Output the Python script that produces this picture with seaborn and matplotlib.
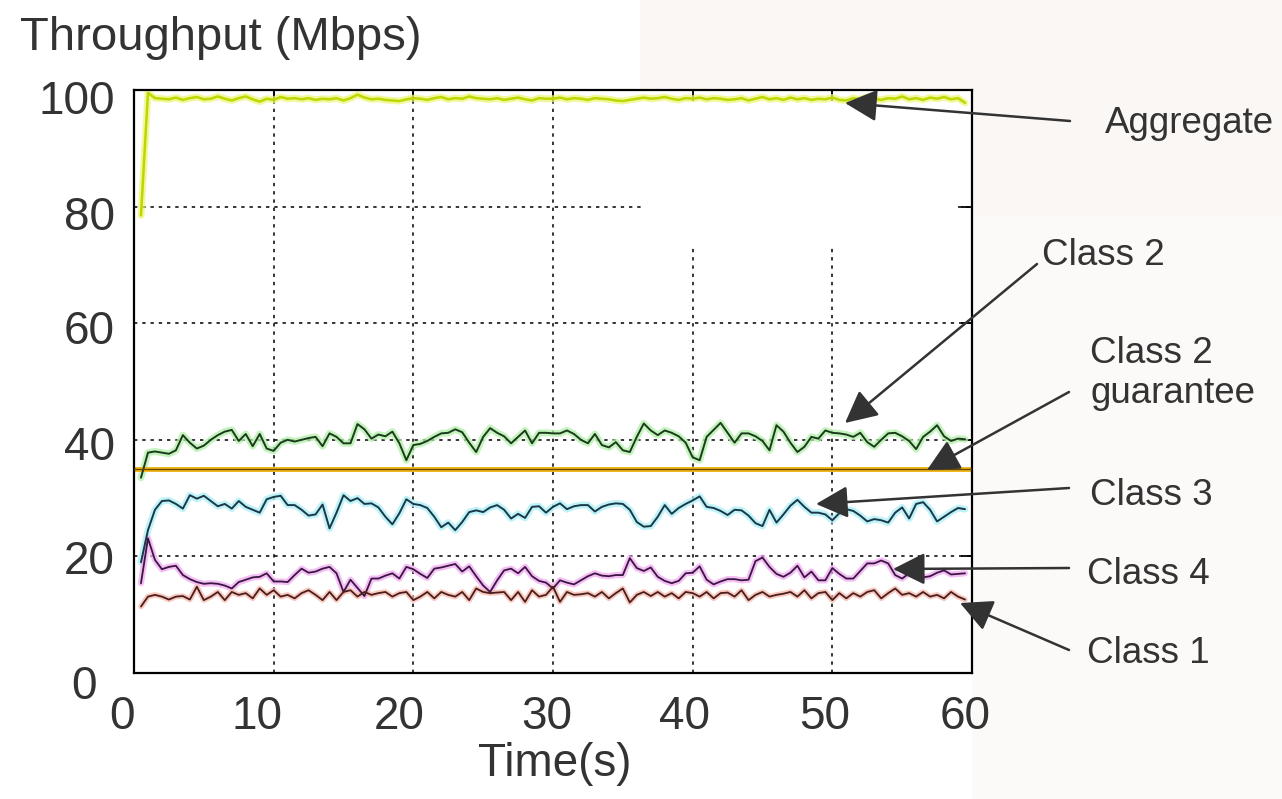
import numpy as np
import pandas as pd
import matplotlib
matplotlib.use("Agg")
import matplotlib.pyplot as plt
from matplotlib.patches import Rectangle
from matplotlib.transforms import ScaledTranslation
import seaborn as sns

# ---------------- data ----------------
time_s = np.arange(0.5, 60.0, 0.5)  # sample times, 0.5 .. 59.5 s

aggregate = [78.5, 99.5,
    98.6, 98.5, 98.4, 98.7, 98.3, 98.6, 98.8, 98.4, 98.5, 98.9, 98.5, 98.2, 98.6, 98.9, 98.4, 98.0,
    98.5, 98.3, 98.8, 98.5, 98.6, 98.4, 98.6, 98.3, 98.5, 98.4, 98.6, 98.2, 98.6, 99.2, 98.7, 98.4,
    98.5, 98.3, 98.2, 98.1, 98.4, 98.6, 98.5, 98.3, 98.6, 98.8, 98.4, 98.6, 98.5, 98.9, 98.6, 98.5,
    98.4, 98.6, 98.3, 98.5, 98.7, 98.4, 98.2, 98.6, 98.5, 98.5, 98.7, 98.4, 98.6, 98.5, 98.3, 98.6,
    98.5, 98.4, 98.2, 98.1, 98.3, 98.5, 98.7, 98.5, 98.6, 98.8, 98.5, 98.3, 98.6, 98.5, 98.7, 98.4,
    98.6, 98.5, 98.3, 98.4, 98.6, 98.2, 98.5, 98.8, 98.4, 98.6, 98.3, 98.7, 98.4, 98.6, 98.3, 98.5,
    98.4, 98.7, 98.3, 98.2, 98.6, 98.4, 98.8, 98.5, 98.3, 98.6, 98.5, 98.9, 98.4, 98.6, 98.3, 98.7,
    98.5, 98.8, 98.4, 98.6, 97.8]

class2 = [33.5, 37.8, 38.0, 37.8, 37.6, 38.2, 40.8, 39.5, 38.5, 39.0, 40.0, 40.8, 41.4, 41.7, 39.8,
    41.0, 38.9, 41.0, 38.5, 38.1, 39.5, 40.0, 39.7, 40.0, 40.3, 40.5, 38.9, 41.1, 40.5, 39.4, 39.4,
    42.7, 41.8, 40.2, 40.9, 40.6, 41.4, 39.4, 36.5, 39.1, 39.3, 39.8, 40.5, 41.1, 41.2, 41.8, 41.3,
    39.5, 37.9, 40.5, 42.0, 41.2, 40.6, 39.4, 40.5, 41.6, 39.4, 41.2, 41.2, 41.1, 41.1, 41.6, 41.0,
    40.0, 39.4, 41.0, 39.1, 38.7, 39.6, 38.2, 37.9, 40.5, 42.8, 41.6, 40.8, 41.6, 41.2, 40.6, 39.5,
    37.0, 36.5, 40.5, 41.7, 42.9, 41.2, 39.5, 41.1, 41.1, 40.6, 39.8, 38.2, 42.5, 41.4, 39.5, 37.9,
    38.8, 40.5, 40.2, 41.6, 41.2, 41.1, 40.9, 40.5, 41.2, 39.6, 38.8, 40.0, 41.1, 41.2, 40.6, 39.8,
    38.4, 40.5, 41.4, 42.5, 40.6, 39.8, 40.2, 40.1]

class3 = [19.0, 24.5, 28.0, 29.5, 29.6, 29.0, 28.2, 30.5, 29.9, 30.4, 29.5, 28.6, 29.0, 28.2, 29.5,
    28.5, 28.0, 27.5, 29.8, 30.2, 30.4, 28.8, 28.8, 28.0, 27.0, 27.2, 28.9, 24.8, 27.5, 30.5, 29.5,
    30.0, 29.0, 29.1, 28.4, 26.8, 25.5, 27.4, 29.8, 29.0, 28.8, 28.3, 26.8, 25.0, 25.8, 24.5, 25.9,
    27.6, 27.9, 27.6, 28.4, 28.8, 28.0, 26.5, 27.3, 26.6, 28.5, 28.6, 27.5, 28.5, 29.1, 28.1, 28.6,
    28.8, 28.8, 27.7, 28.5, 28.9, 29.1, 29.0, 28.0, 25.9, 25.1, 25.2, 26.8, 28.8, 27.3, 28.3, 29.0,
    29.6, 30.3, 28.5, 28.3, 27.8, 27.1, 28.0, 27.9, 27.0, 25.7, 25.2, 28.0, 25.8, 27.2, 28.7, 29.7,
    28.5, 27.5, 27.5, 27.2, 26.2, 27.4, 28.1, 27.8, 27.0, 26.0, 26.4, 26.2, 25.8, 27.5, 28.4, 26.5,
    29.0, 29.3, 28.0, 26.0, 26.8, 27.6, 28.3, 28.1]

class4 = [15.4, 23.1, 19.4, 17.8, 18.2, 18.4, 16.8, 16.1, 15.6, 15.3, 15.4, 15.3, 15.0, 14.5, 15.6,
    16.0, 16.4, 16.5, 17.1, 15.7, 15.7, 15.6, 16.8, 17.9, 17.2, 17.4, 17.9, 18.2, 17.1, 13.9, 16.0,
    14.6, 13.2, 16.2, 16.2, 16.7, 17.1, 16.2, 18.2, 17.8, 17.0, 16.3, 17.9, 18.1, 18.4, 18.7, 17.4,
    18.3, 16.6, 15.0, 13.9, 15.9, 17.6, 17.9, 17.1, 18.2, 16.6, 15.8, 15.5, 14.5, 15.9, 15.5, 15.2,
    15.9, 16.6, 17.1, 16.7, 16.6, 16.8, 16.8, 19.7, 18.0, 17.5, 18.1, 16.5, 15.8, 15.4, 15.8, 17.1,
    17.2, 18.3, 16.0, 15.2, 15.7, 16.1, 16.1, 15.9, 16.0, 19.2, 19.8, 18.2, 17.0, 16.5, 17.2, 18.4,
    16.4, 17.4, 15.9, 15.9, 18.0, 17.0, 16.2, 16.2, 17.5, 18.8, 18.8, 19.3, 18.8, 16.8, 16.2, 17.1,
    16.5, 16.4, 16.6, 17.2, 17.6, 16.9, 17.0, 17.1]

class1 = [11.4, 13.1, 13.4, 13.1, 12.6, 13.1, 13.2, 12.6, 14.8, 12.5, 13.1, 13.9, 12.5, 13.9, 13.4,
    13.7, 12.8, 14.5, 13.4, 14.2, 13.1, 13.4, 12.8, 13.7, 14.2, 13.4, 12.5, 13.9, 12.5, 13.9, 14.2,
    13.1, 13.9, 13.4, 13.7, 13.9, 13.1, 13.7, 13.9, 12.5, 13.1, 13.9, 12.8, 13.9, 13.4, 13.1, 13.9,
    12.5, 14.5, 13.9, 13.7, 13.8, 13.9, 12.5, 13.9, 12.2, 14.2, 13.1, 13.4, 14.8, 12.2, 13.9, 13.4,
    13.5, 13.7, 13.1, 13.9, 12.8, 13.7, 14.5, 12.1, 13.4, 13.9, 13.2, 13.9, 13.1, 13.7, 12.8, 13.9,
    13.7, 13.1, 13.9, 12.8, 13.7, 13.8, 13.1, 14.2, 12.5, 13.4, 13.9, 13.1, 13.4, 13.6, 13.9, 13.1,
    14.2, 12.8, 13.7, 13.9, 12.5, 13.7, 12.8, 13.7, 13.1, 13.9, 14.2, 12.8, 13.7, 14.5, 13.4, 13.7,
    13.1, 13.9, 13.1, 13.4, 12.8, 13.9, 13.1, 12.6]

class2_guarantee = 35.0
guarantee_span = [0.0, 60.0]

x_ticks = [0, 10, 20, 30, 40, 50, 60]
y_ticks = [0, 20, 40, 60, 80, 100]

for s in (aggregate, class2, class3, class4, class1):
    assert len(s) == len(time_s), len(s)

# ---------------- figure ----------------
sns.set_style("white")
plt.rcParams["font.family"] = ["Liberation Sans", "DejaVu Sans"]

W, H = 1282, 799
fig = plt.figure(figsize=(W / 100, H / 100), dpi=100)
fig.patch.set_facecolor("white")

# faint slide-background tint
fig.add_artist(Rectangle((640 / W, 1 - 215 / H), 642 / W, 215 / H,
                         transform=fig.transFigure, color="#faf7f4", zorder=-10, lw=0))
fig.add_artist(Rectangle((972 / W, 0), 310 / W, 1 - 215 / H,
                         transform=fig.transFigure, color="#fcfaf8", zorder=-10, lw=0))

ax = fig.add_axes([134 / W, 1 - 673 / H, 838 / W, 583 / H])
ax.set_facecolor("white")

dark_txt = "#333333"

# grid (dashed, partially missing as in the picture)
gkw = dict(colors="black", linestyles=(0, (2.2, 3.2)), linewidth=1.1, zorder=1)
ax.vlines([10, 20, 30], 0, 100, **gkw)
ax.vlines([40, 50], 0, 73, **gkw)
ax.hlines([20, 40, 60], 0, 60, **gkw)
ax.hlines([80], 0, 36.5, **gkw)
ax.hlines([80], 59, 60, **gkw)

df = pd.DataFrame({"t": time_s, "agg": aggregate, "c2": class2, "c3": class3,
                   "c4": class4, "c1": class1})

styles = [
    ("agg", "#eef57a", 5.0, "#bcd800", 1.8),
    ("c2", "#b0f0a8", 5.0, "#1c3a1c", 1.4),
    ("c3", "#aaf0f6", 5.0, "#1a3848", 1.4),
    ("c4", "#f2a8f2", 4.5, "#3a1642", 1.3),
    ("c1", "#f6b8a8", 4.0, "#4a1e1e", 1.3),
]
for col, halo, hw, core, cw in styles:
    sns.lineplot(data=df, x="t", y=col, ax=ax, color=halo, linewidth=hw, alpha=0.75, zorder=2)
    sns.lineplot(data=df, x="t", y=col, ax=ax, color=core, linewidth=cw, zorder=3)

gdf = pd.DataFrame({"t": guarantee_span, "v": [class2_guarantee] * 2})
sns.lineplot(data=gdf, x="t", y="v", ax=ax, color="#f2b820", linewidth=3.6, zorder=2)
sns.lineplot(data=gdf, x="t", y="v", ax=ax, color="#6a4800", linewidth=1.0, zorder=3)

ax.set_xlim(0, 60)
ax.set_ylim(0, 100)
ax.set_xticks(x_ticks)
ax.set_yticks(y_ticks)
ax.set_xticklabels([str(v) for v in x_ticks])
ax.set_yticklabels([str(v) for v in y_ticks])
ax.set_xlabel("")
ax.set_ylabel("")
ax.tick_params(direction="in", length=8, width=1.3, top=True, right=True,
               labelsize=33, labelcolor=dark_txt, colors="black")
ax.tick_params(axis="x", pad=16)
ax.tick_params(axis="y", pad=14)
for sp in ax.spines.values():
    sp.set_color("black")
    sp.set_linewidth(1.6)

# manual nudges of tick labels (pixels)
def nudge(lbl, dx, dy):
    lbl.set_transform(lbl.get_transform() + ScaledTranslation(dx / 100, -dy / 100, fig.dpi_scale_trans))

for lbl, dx in zip(ax.get_xticklabels(), [-12, -17, -14, -6, -8, -8, -7]):
    nudge(lbl, dx, 0)
for lbl, (dx, dy) in zip(ax.get_yticklabels(), [(-18, 9), (0, 1), (0, 3), (0, 4), (0, 6), (0, 7)]):
    nudge(lbl, dx, dy)

# axis titles
fig.text(555 / W, 1 - 764 / H, "Time(s)", ha="center", va="center", fontsize=33, color=dark_txt)
fig.text(20 / W, 1 - 50 / H, "Throughput (Mbps)", ha="left", va="baseline", fontsize=34, color=dark_txt)

# annotations: labels (left x, baseline y in px) and arrows (start px -> tip px)
labels = [
    ("Aggregate", 1105, 133),
    ("Class 2", 1042, 265),
    ("Class 2", 1090, 363),
    ("guarantee", 1090, 403),
    ("Class 3", 1090, 505),
    ("Class 4", 1087, 584),
    ("Class 1", 1087, 663),
]
for txt, x, y in labels:
    fig.text(x / W, 1 - y / H, txt, ha="left", va="baseline", fontsize=26.5, color=dark_txt)

arrows = [
    ((1070, 121), (845, 103)),
    ((1037, 264), (845, 423)),
    ((1069, 392), (927, 470)),
    ((1069, 488), (816, 504)),
    ((1069, 568), (893, 569)),
    ((1069, 650), (960, 603)),
]
for (sx, sy), (tx, ty) in arrows:
    ax.annotate("", xy=(tx, H - ty), xycoords="figure pixels",
                xytext=(sx, H - sy), textcoords="figure pixels",
                arrowprops=dict(arrowstyle="-|>,head_length=0.9,head_width=0.45",
                                color="#333333", lw=1.8, shrinkA=0, shrinkB=0,
                                mutation_scale=22),
                annotation_clip=False, zorder=10)

fig.savefig("out.png", dpi=100)
